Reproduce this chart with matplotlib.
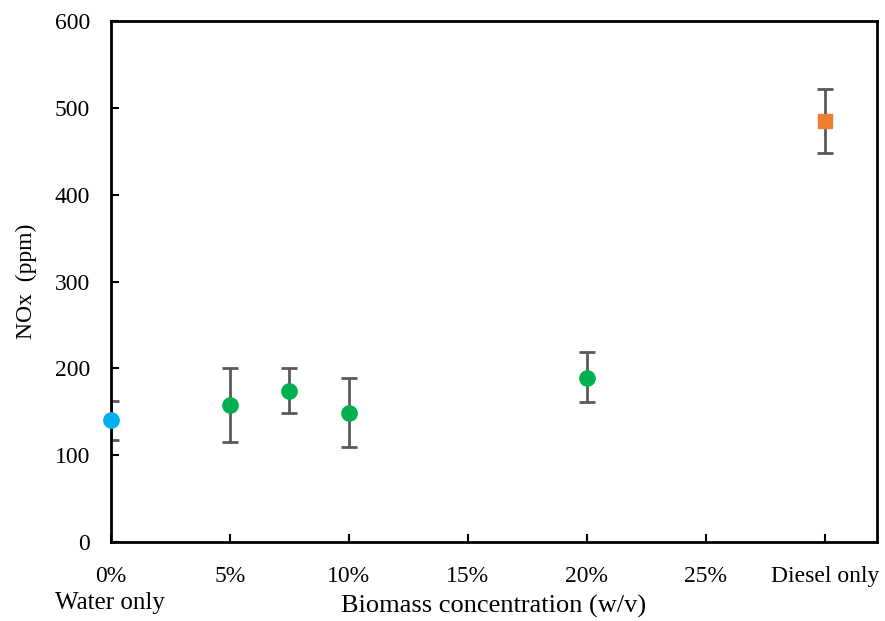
import matplotlib.pyplot as plt

plt.rcParams['font.family'] = ['Liberation Serif', 'DejaVu Serif']

# data
water_x = [0]
water_y = [140.5]
water_err = [[23], [21.5]]

bio_x = [5, 7.5, 10, 20]
bio_y = [158, 174, 149, 189]
bio_lo = [43, 25, 40, 28]
bio_hi = [42, 26, 40, 30]

diesel_x = [30]
diesel_y = [485]
diesel_err = [[37], [37]]

xticks = [0, 5, 10, 15, 20, 25, 30]
xticklabels = ['0%', '5%', '10%', '15%', '20%', '25%', 'Diesel only']

fig = plt.figure(figsize=(8.85, 6.21), dpi=100)
ax = fig.add_axes([0.1254, 0.1272, 0.8656, 0.8388])

ekw = dict(ecolor='#595959', elinewidth=2, capsize=6, capthick=2, linestyle='none')
# water only: error bar clipped at the axis, marker not
ax.errorbar(water_x, water_y, yerr=water_err, fmt='none', zorder=2, **ekw)
ax.plot(water_x, water_y, 'o', color='#00B0F0', markersize=11, clip_on=False, zorder=3)
ax.errorbar(bio_x, bio_y, yerr=[bio_lo, bio_hi], fmt='o', color='#00B050',
            markersize=11, zorder=3, **ekw)
ax.errorbar(diesel_x, diesel_y, yerr=diesel_err, fmt='s', color='#ED7D31',
            markersize=10, zorder=3, **ekw)

ax.set_xlim(0, 32.2)
ax.set_ylim(0, 600)
ax.set_xticks(xticks)
ax.set_xticklabels(xticklabels)
ax.set_yticks(range(0, 601, 100))
ax.tick_params(direction='in', length=6, width=1.5, labelsize=17)
ax.tick_params(axis='x', pad=17)
ax.tick_params(axis='y', pad=15)
for s in ax.spines.values():
    s.set_linewidth(2)

ax.set_ylabel('NOx  (ppm)', fontsize=17, labelpad=13)
ax.set_xlabel('Biomass concentration (w/v)', fontsize=19, labelpad=6)
fig.text(0.062, 0.012, 'Water only', fontsize=18, ha='left', va='bottom')

fig.savefig('out.png', dpi=100)
